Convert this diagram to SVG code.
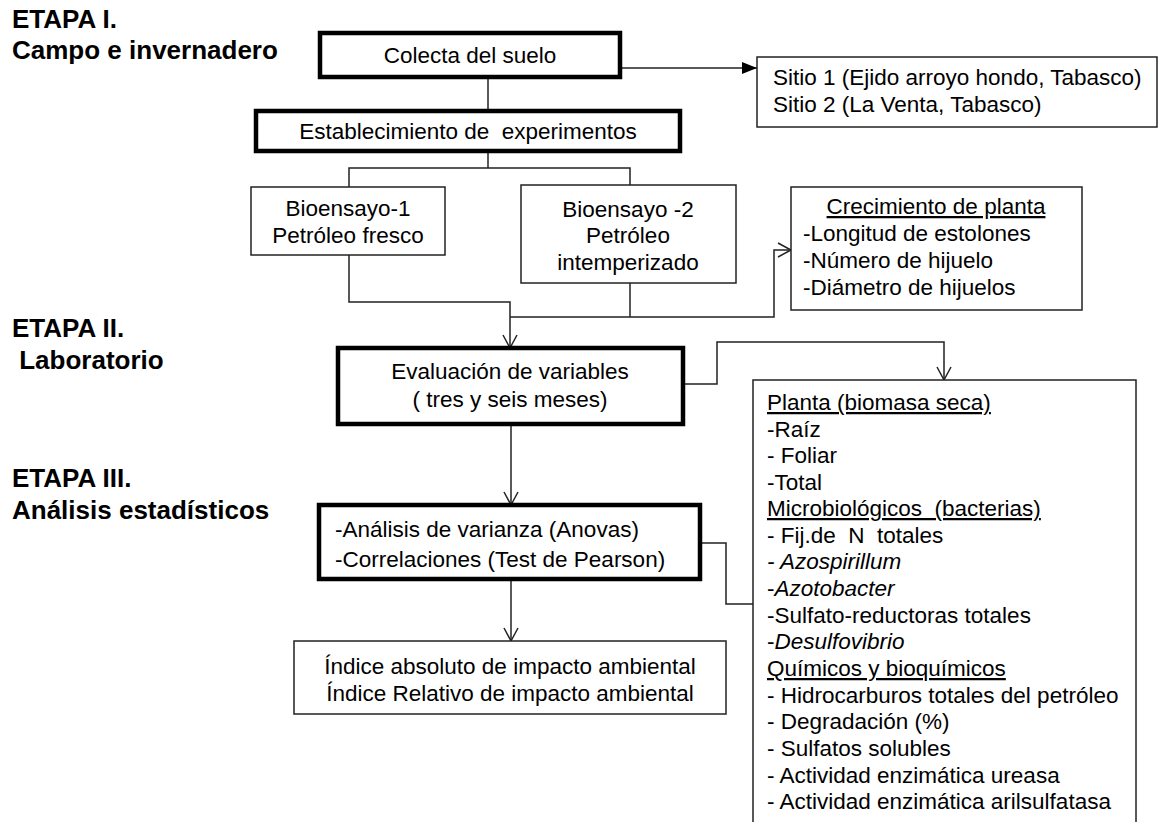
<svg xmlns="http://www.w3.org/2000/svg" width="1158" height="822" viewBox="0 0 1158 822">
<style>
  .t { font-family: "Liberation Sans", Arial, sans-serif; font-size: 22.5px; fill: #000; white-space: pre; }
  .c { text-anchor: middle; }
  .h { font-family: "Liberation Sans", Arial, sans-serif; font-size: 26px; font-weight: bold; fill: #000; white-space: pre; }
  .thin { fill: #fff; stroke: #222; stroke-width: 1.5; }
  .thick { fill: #fff; stroke: #000; stroke-width: 4.5; }
  .ln { fill: none; stroke: #222; stroke-width: 1.5; }
  .u { text-decoration: underline; }
  .i { font-style: italic; }
</style>
<defs>
  <marker id="open" markerWidth="16" markerHeight="16" refX="14" refY="8" orient="auto" markerUnits="userSpaceOnUse">
    <path d="M1,1 L14,8 L1,15" fill="none" stroke="#222" stroke-width="1.5"/>
  </marker>
  <marker id="filled" markerWidth="16" markerHeight="14" refX="15" refY="7" orient="auto" markerUnits="userSpaceOnUse">
    <path d="M0,1 L15,7 L0,13 Z" fill="#000"/>
  </marker>
</defs>
<rect width="1158" height="822" fill="#fff"/>

<g id="stage-labels">
  <text class="h" x="12" y="28">ETAPA I.</text>
  <text class="h" x="12" y="59">Campo e invernadero</text>
  <text class="h" x="12" y="337">ETAPA II.</text>
  <text class="h" x="12" y="369" xml:space="preserve"> Laboratorio</text>
  <text class="h" x="12" y="487">ETAPA III.</text>
  <text class="h" x="12" y="519">Análisis estadísticos</text>
</g>

<g id="connectors">
  <path class="ln" d="M620,68 H757" marker-end="url(#filled)"/>
  <path class="ln" d="M488,77 V111"/>
  <path class="ln" d="M488,151 V168"/>
  <path class="ln" d="M349,187 V168 H630 V185"/>
  <path class="ln" d="M349,255 V302 H510 V348" marker-end="url(#open)"/>
  <path class="ln" d="M630,283 V317"/>
  <path class="ln" d="M510,317 H774 V250 H791" marker-end="url(#open)"/>
  <path class="ln" d="M683,384 H717 V342 H944 V380" marker-end="url(#open)"/>
  <path class="ln" d="M511,424 V505" marker-end="url(#open)"/>
  <path class="ln" d="M700,543 H726 V604 H753"/>
  <path class="ln" d="M511,579 V641" marker-end="url(#open)"/>
</g>

<g id="colecta">
  <rect class="thick" x="320" y="33" width="300" height="44"/>
  <text class="t c" x="470" y="63">Colecta del suelo</text>
</g>

<g id="sitios">
  <rect class="thin" x="757" y="57" width="400" height="70"/>
  <text class="t" x="773" y="85">Sitio 1 (Ejido arroyo hondo, Tabasco)</text>
  <text class="t" x="773" y="112">Sitio 2 (La Venta, Tabasco)</text>
</g>

<g id="establecimiento">
  <rect class="thick" x="256" y="111" width="424" height="40"/>
  <text class="t c" x="468" y="139" xml:space="preserve">Establecimiento de  experimentos</text>
</g>

<g id="bioensayo1">
  <rect class="thin" x="251" y="187" width="194" height="68"/>
  <text class="t c" x="348" y="216">Bioensayo-1</text>
  <text class="t c" x="348" y="243">Petróleo fresco</text>
</g>

<g id="bioensayo2">
  <rect class="thin" x="521" y="185" width="215" height="98"/>
  <text class="t c" x="628" y="217">Bioensayo -2</text>
  <text class="t c" x="628" y="243">Petróleo</text>
  <text class="t c" x="628" y="270">intemperizado</text>
</g>

<g id="crecimiento">
  <rect class="thin" x="791" y="187" width="291" height="123"/>
  <text class="t c u" x="936" y="214">Crecimiento de planta</text>
  <text class="t" x="803" y="241">-Longitud de estolones</text>
  <text class="t" x="803" y="268">-Número de hijuelo</text>
  <text class="t" x="803" y="295">-Diámetro de hijuelos</text>
</g>

<g id="evaluacion">
  <rect class="thick" x="338" y="348" width="345" height="76"/>
  <text class="t c" x="510" y="379">Evaluación de variables</text>
  <text class="t c" x="510" y="407">( tres y seis meses)</text>
</g>

<g id="analisis">
  <rect class="thick" x="319" y="505" width="381" height="74"/>
  <text class="t" x="335" y="537">-Análisis de varianza (Anovas)</text>
  <text class="t" x="335" y="567">-Correlaciones (Test de Pearson)</text>
</g>

<g id="indice">
  <rect class="thin" x="294" y="641" width="432" height="73"/>
  <text class="t c" x="510" y="674">Índice absoluto de impacto ambiental</text>
  <text class="t c" x="510" y="701">Índice Relativo de impacto ambiental</text>
</g>

<g id="variables">
  <rect class="thin" x="753" y="380" width="383" height="460"/>
  <text class="t u" x="767" y="410">Planta (biomasa seca)</text>
  <text class="t" x="767" y="437">-Raíz</text>
  <text class="t" x="767" y="463">- Foliar</text>
  <text class="t" x="767" y="490">-Total</text>
  <text class="t u" x="767" y="516" xml:space="preserve">Microbiológicos  (bacterias)</text>
  <text class="t" x="767" y="543" xml:space="preserve">- Fij.de  N  totales</text>
  <text class="t i" x="767" y="569">- Azospirillum</text>
  <text class="t" x="767" y="596">-<tspan class="i">Azotobacter</tspan></text>
  <text class="t" x="767" y="623">-Sulfato-reductoras totales</text>
  <text class="t" x="767" y="649">-<tspan class="i">Desulfovibrio</tspan></text>
  <text class="t u" x="767" y="676">Químicos y bioquímicos</text>
  <text class="t" x="767" y="703">- Hidrocarburos totales del petróleo</text>
  <text class="t" x="767" y="729">- Degradación (%)</text>
  <text class="t" x="767" y="756">- Sulfatos solubles</text>
  <text class="t" x="767" y="783">- Actividad enzimática ureasa</text>
  <text class="t" x="767" y="809">- Actividad enzimática arilsulfatasa</text>
</g>
</svg>
